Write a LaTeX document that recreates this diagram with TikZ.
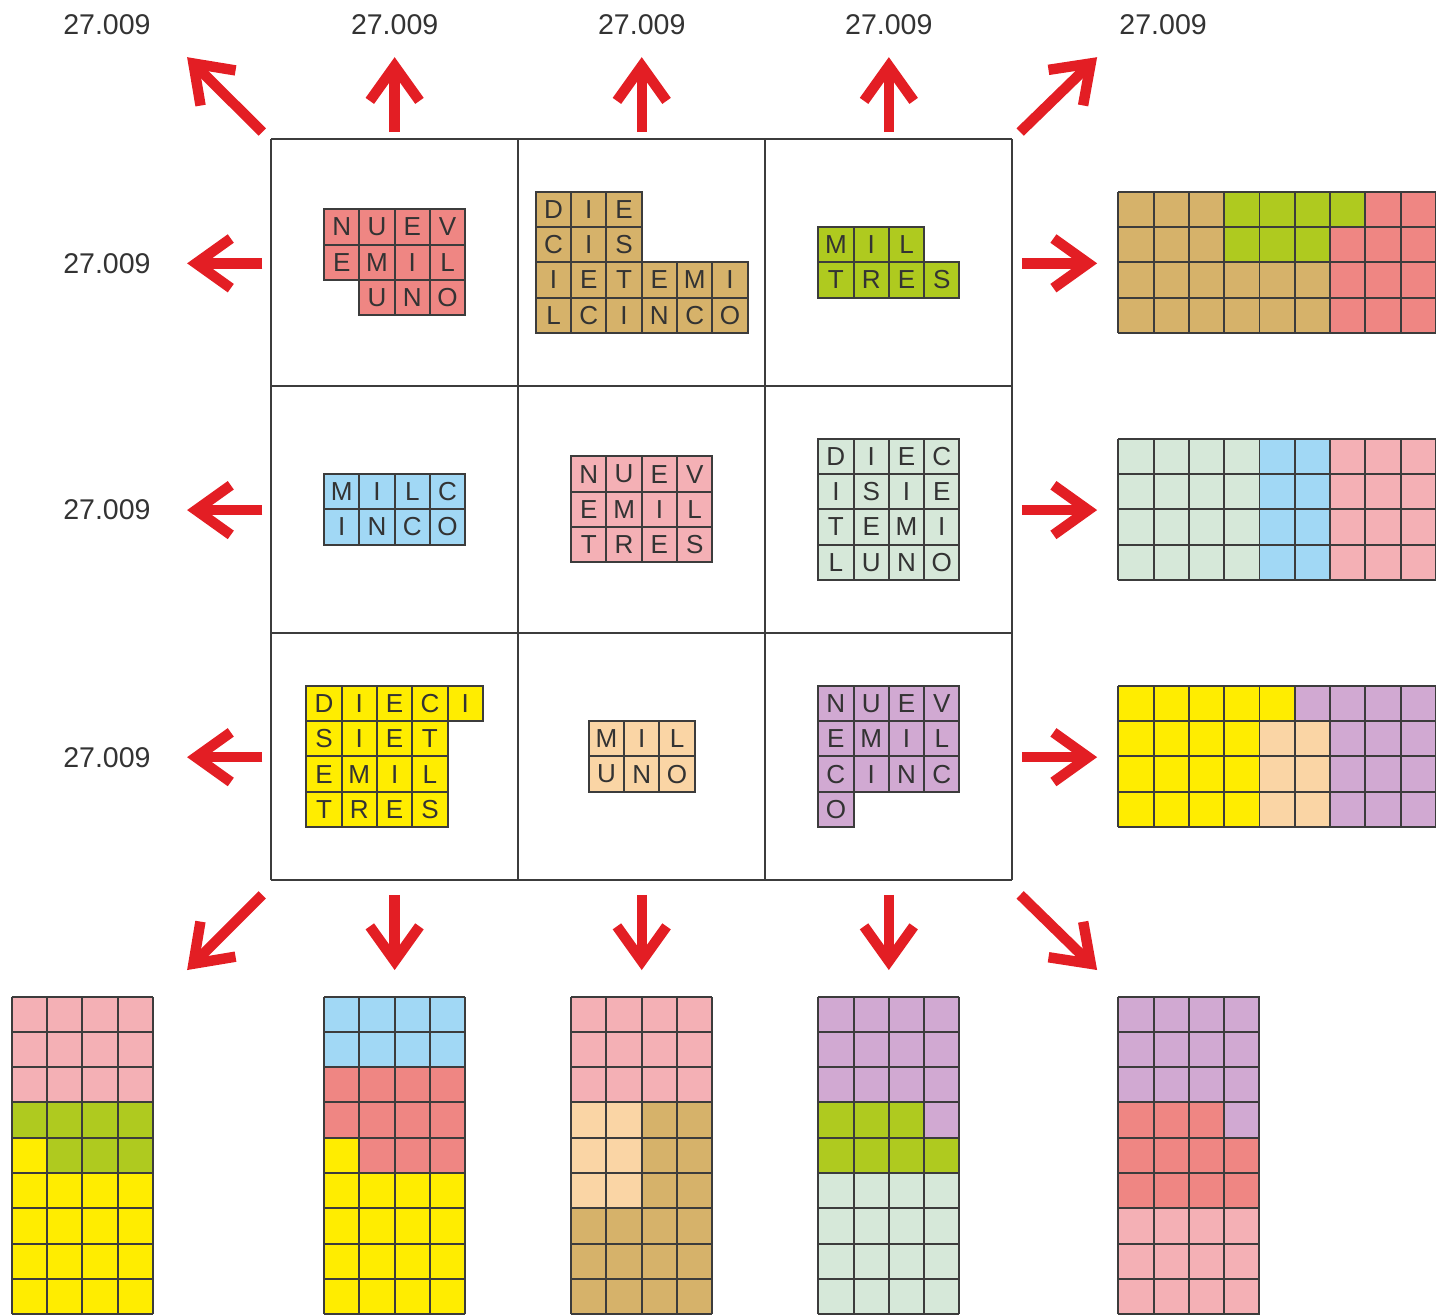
\documentclass[tikz,border=0pt]{standalone}
\usepackage{fontspec}
\setmainfont{Liberation Sans}
\usepackage{tikz}
\usetikzlibrary{arrows.meta}
\usepackage{xcolor}

\definecolor{rojo}{RGB}{239,134,131}
\definecolor{tierra}{RGB}{214,178,106}
\definecolor{lima}{RGB}{175,202,31}
\definecolor{cielo}{RGB}{161,216,245}
\definecolor{rosa}{RGB}{244,176,181}
\definecolor{menta}{RGB}{214,232,217}
\definecolor{amarillo}{RGB}{255,237,0}
\definecolor{melocoton}{RGB}{250,213,165}
\definecolor{lila}{RGB}{209,169,210}
\definecolor{arrowred}{RGB}{227,30,36}
\definecolor{gridgray}{RGB}{60,60,60}
\definecolor{inkgray}{RGB}{51,51,51}

% one row of lettered squares: name, x of first centre, y, colour, letters
\newcommand{\wordrow}[5]{%
  \foreach \ch [count=\k] in {#5}
    \node[cell, fill=#4] (#1\k) at ({#2+\k-1},#3) {\ch};}

\begin{document}
\begin{tikzpicture}[
  x=0.5cm, y=0.5cm,
  cell/.style={draw=gridgray, line width=0.8pt, minimum size=0.5cm, inner sep=0pt,
    text=inkgray, font=\fontsize{10.5}{12}\selectfont},
  squares/.style={draw=gridgray, line width=0.8pt, step=0.5cm},
  board/.style={draw=gridgray, line width=0.9pt, step=3.5cm},
  total/.style={text=inkgray, inner sep=0pt, font=\fontsize{11.5}{13}\selectfont},
  redarrow/.style={draw=arrowred, line width=4.2pt, -{Straight Barb[length=14pt,width=20pt]}}
]
  \useasboundingbox (-7.68,-12.35) rectangle (33,24.93);

  % The board
  \draw[board] (0,0) grid (21,21);

  % Top row of the board
  \wordrow{nuevA}{2}{18.5}{rojo}{N,U,E,V}
  \wordrow{emilA}{2}{17.5}{rojo}{E,M,I,L}
  \wordrow{unoA}{3}{16.5}{rojo}{U,N,O}

  \wordrow{dieA}{8}{19}{tierra}{D,I,E}
  \wordrow{cisA}{8}{18}{tierra}{C,I,S}
  \wordrow{ietemiA}{8}{17}{tierra}{I,E,T,E,M,I}
  \wordrow{lcincoA}{8}{16}{tierra}{L,C,I,N,C,O}

  \wordrow{milA}{16}{18}{lima}{M,I,L}
  \wordrow{tresA}{16}{17}{lima}{T,R,E,S}

  % Middle row of the board
  \wordrow{milcB}{2}{11}{cielo}{M,I,L,C}
  \wordrow{incoB}{2}{10}{cielo}{I,N,C,O}

  \wordrow{nuevB}{9}{11.5}{rosa}{N,U,E,V}
  \wordrow{emilB}{9}{10.5}{rosa}{E,M,I,L}
  \wordrow{tresB}{9}{9.5}{rosa}{T,R,E,S}

  \wordrow{diecB}{16}{12}{menta}{D,I,E,C}
  \wordrow{isieB}{16}{11}{menta}{I,S,I,E}
  \wordrow{temiB}{16}{10}{menta}{T,E,M,I}
  \wordrow{lunoB}{16}{9}{menta}{L,U,N,O}

  % Bottom row of the board
  \wordrow{dieciC}{1.5}{5}{amarillo}{D,I,E,C,I}
  \wordrow{sietC}{1.5}{4}{amarillo}{S,I,E,T}
  \wordrow{emilC}{1.5}{3}{amarillo}{E,M,I,L}
  \wordrow{tresC}{1.5}{2}{amarillo}{T,R,E,S}

  \wordrow{milC}{9.5}{4}{melocoton}{M,I,L}
  \wordrow{unoC}{9.5}{3}{melocoton}{U,N,O}

  \wordrow{nuevC}{16}{5}{lila}{N,U,E,V}
  \wordrow{emilD}{16}{4}{lila}{E,M,I,L}
  \wordrow{cincC}{16}{3}{lila}{C,I,N,C}
  \wordrow{oC}{16}{2}{lila}{O}

  % Arrows and totals above the board
  \coordinate (nwFrom) at (-0.25,21.19);
  \coordinate (nwTo) at (-2.38,23.31);
  \draw[redarrow] (nwFrom) -- (nwTo);
  \node[total] (nwSum) at (-4.65,24.22) {27.009};

  \foreach \x [count=\i] in {3.5,10.5,17.5} {
    \coordinate (upFrom\i) at (\x,21.19);
    \coordinate (upTo\i) at (\x,23.31);
    \draw[redarrow] (upFrom\i) -- (upTo\i);
    \node[total] (upSum\i) at (\x,24.22) {27.009};
  }

  \coordinate (neFrom) at (21.22,21.19);
  \coordinate (neTo) at (23.4,23.31);
  \draw[redarrow] (neFrom) -- (neTo);
  \node[total] (neSum) at (25.27,24.22) {27.009};

  % Arrows and totals beside the board
  \foreach \y [count=\i] in {17.47,10.48,3.48} {
    \coordinate (wFrom\i) at (-0.25,\y);
    \coordinate (wTo\i) at (-2.38,\y);
    \draw[redarrow] (wFrom\i) -- (wTo\i);
    \node[total] (wSum\i) at (-4.65,\y) {27.009};
    \coordinate (eFrom\i) at (21.27,\y);
    \coordinate (eTo\i) at (23.4,\y);
    \draw[redarrow] (eFrom\i) -- (eTo\i);
  }

  % Arrows below the board
  \coordinate (swFrom) at (-0.25,-0.42);
  \coordinate (swTo) at (-2.38,-2.55);
  \draw[redarrow] (swFrom) -- (swTo);
  \foreach \x [count=\i] in {3.5,10.5,17.5} {
    \coordinate (dnFrom\i) at (\x,-0.42);
    \coordinate (dnTo\i) at (\x,-2.55);
    \draw[redarrow] (dnFrom\i) -- (dnTo\i);
  }
  \coordinate (seFrom) at (21.22,-0.42);
  \coordinate (seTo) at (23.4,-2.55);
  \draw[redarrow] (seFrom) -- (seTo);

  % Rows put together
  \begin{scope}[shift={(24,15.5)}]
    \fill[tierra] (0,0) rectangle (3,4) (3,0) rectangle (6,2);
    \fill[lima] (3,3) rectangle (7,4) (3,2) rectangle (6,3);
    \fill[rojo] (7,3) rectangle (9,4) (6,0) rectangle (9,3);
    \draw[squares] (0,0) grid (9,4);
  \end{scope}
  \begin{scope}[shift={(24,8.5)}]
    \fill[menta] (0,0) rectangle (4,4);
    \fill[cielo] (4,0) rectangle (6,4);
    \fill[rosa] (6,0) rectangle (9,4);
    \draw[squares] (0,0) grid (9,4);
  \end{scope}
  \begin{scope}[shift={(24,1.5)}]
    \fill[amarillo] (0,3) rectangle (5,4) (0,0) rectangle (4,3);
    \fill[melocoton] (4,0) rectangle (6,3);
    \fill[lila] (5,3) rectangle (9,4) (6,0) rectangle (9,3);
    \draw[squares] (0,0) grid (9,4);
  \end{scope}

  % Columns and diagonals put together
  \begin{scope}[shift={(-7.35,-12.3)}]
    \fill[rosa] (0,6) rectangle (4,9);
    \fill[lima] (0,5) rectangle (4,6) (1,4) rectangle (4,5);
    \fill[amarillo] (0,4) rectangle (1,5) (0,0) rectangle (4,4);
    \draw[squares] (0,0) grid (4,9);
  \end{scope}
  \begin{scope}[shift={(1.5,-12.3)}]
    \fill[cielo] (0,7) rectangle (4,9);
    \fill[rojo] (0,5) rectangle (4,7) (1,4) rectangle (4,5);
    \fill[amarillo] (0,4) rectangle (1,5) (0,0) rectangle (4,4);
    \draw[squares] (0,0) grid (4,9);
  \end{scope}
  \begin{scope}[shift={(8.5,-12.3)}]
    \fill[rosa] (0,6) rectangle (4,9);
    \fill[melocoton] (0,3) rectangle (2,6);
    \fill[tierra] (2,3) rectangle (4,6) (0,0) rectangle (4,3);
    \draw[squares] (0,0) grid (4,9);
  \end{scope}
  \begin{scope}[shift={(15.5,-12.3)}]
    \fill[lila] (0,6) rectangle (4,9) (3,5) rectangle (4,6);
    \fill[lima] (0,5) rectangle (3,6) (0,4) rectangle (4,5);
    \fill[menta] (0,0) rectangle (4,4);
    \draw[squares] (0,0) grid (4,9);
  \end{scope}
  \begin{scope}[shift={(24,-12.3)}]
    \fill[lila] (0,6) rectangle (4,9) (3,5) rectangle (4,6);
    \fill[rojo] (0,5) rectangle (3,6) (0,3) rectangle (4,5);
    \fill[rosa] (0,0) rectangle (4,3);
    \draw[squares] (0,0) grid (4,9);
  \end{scope}
\end{tikzpicture}
\end{document}
